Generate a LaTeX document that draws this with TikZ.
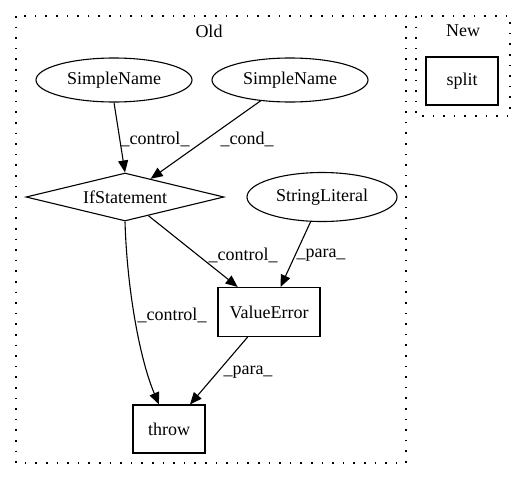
\documentclass[tikz,border=0pt]{standalone}
\usepackage{fontspec}
\setmainfont{Liberation Serif}
\usetikzlibrary{shapes.geometric,arrows.meta}
\begin{document}
\begin{tikzpicture}[x=1pt,y=-1pt,
  every node/.style={font=\fontsize{18}{20}\selectfont, inner sep=0pt},
  ell/.style={draw, ellipse, line width=1.1pt},
  box/.style={draw, rectangle, line width=1.1pt},
  dia/.style={draw, diamond, aspect=4, line width=1.1pt},
  cluster/.style={draw, dash pattern=on 1.6pt off 9pt, line width=1.4pt},
  edge/.style={line width=1.1pt, -{Triangle[length=12pt,width=10pt]}},
  lbl/.style={fill=none}]
\useasboundingbox (0,0) rectangle (527,480);
% clusters
\draw[cluster] (16,16) rectangle (406,463);
\node (old) at (209,31) {Old};
\draw[cluster] (416,16) rectangle (510,116);
\node (new) at (463,31) {New};
% nodes
\node[box, minimum width=72pt, minimum height=48pt] (split) at (462,81) {split};
\node[ell, minimum width=156pt, minimum height=44pt] (sn1) at (114,80) {SimpleName};
\node[ell, minimum width=156pt, minimum height=44pt] (sn2) at (290,80) {SimpleName};
\node[dia, minimum width=198pt, minimum height=48pt] (if) at (125,197) {IfStatement};
\node[ell, minimum width=150pt, minimum height=49pt] (sl) at (322,197) {StringLiteral};
\node[box, minimum width=102pt, minimum height=49pt] (ve) at (269,312) {ValueError};
\node[box, minimum width=72pt, minimum height=48pt] (throw) at (169,429) {throw};
% edges
\draw[edge] (sn1.south) -- (if.north);
\node[lbl] (l1) at (155,139) {\_control\_};
\draw[edge] (sn2) -- (if);
\node[lbl] (l2) at (247,139) {\_cond\_};
\draw[edge] (if) -- (ve);
\node[lbl] (l3) at (243,255) {\_control\_};
\draw[edge] (sl) -- (ve);
\node[lbl] (l4) at (321,255) {\_para\_};
\draw[edge] (if.south) .. controls (127,290) and (140,360) .. ([xshift=-10pt]throw.north);
\node[lbl] (l5) at (172,315) {\_control\_};
\draw[edge] (ve) -- (throw);
\node[lbl] (l6) at (248,372) {\_para\_};
\end{tikzpicture}
\end{document}
